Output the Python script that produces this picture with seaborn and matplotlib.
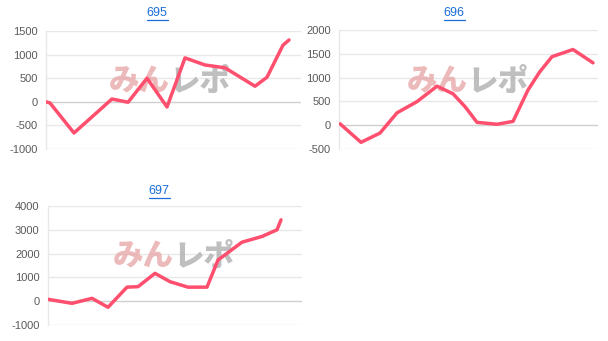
import matplotlib
matplotlib.use("Agg")
import matplotlib.pyplot as plt
import seaborn as sns
import pandas as pd
from matplotlib.lines import Line2D

sns.set_theme(style="white")
plt.rcParams['font.family'] = ['Liberation Sans', 'Noto Sans CJK JP', 'DejaVu Sans']

# ---- data (x = game count, y = coin difference) ----
titles = ["695", "696", "697"]
x695 = [0, 125, 878, 2071, 2573, 3169, 3796, 4361, 4988, 5616, 6557, 6933, 7435, 7624]
y695 = [0, -25, -660, 60, -10, 500, -110, 930, 780, 720, 330, 520, 1200, 1310]
x696 = [31, 680, 1266, 1792, 2409, 3027, 3521, 3892, 4263, 4880, 5375, 5838, 6200, 6579, 7228, 7846]
y696 = [30, -360, -165, 260, 495, 820, 660, 390, 60, 20, 80, 740, 1120, 1440, 1590, 1310]
x697 = [0, 756, 1386, 1890, 2488, 2835, 3370, 3843, 4409, 5008, 5354, 6110, 6740, 7213, 7339]
y697 = [80, -90, 120, -255, 590, 610, 1170, 820, 590, 590, 1730, 2480, 2720, 3000, 3420]
yticks695 = [-1000, -500, 0, 500, 1000, 1500]
yticks696 = [-500, 0, 500, 1000, 1500, 2000]
yticks697 = [-1000, 0, 1000, 2000, 3000, 4000]

W, H = 608, 341
fig = plt.figure(figsize=(W / 100, H / 100), dpi=100)

LINE = "#ff4f6e"
GRID = "#e8e8e8"
ZERO = "#cfcfcf"
TICK = "#5a5a5a"
TITLE = "#1a6ed8"

# panel boxes in pixels: left, right, top, bottom ; title center x, title y
panels = [
    (x695, y695, yticks695, (46, 301, 31, 149), (157, 13), (0.486, 0.576), titles[0]),
    (x696, y696, yticks696, (339, 598, 30, 149), (454, 13), (0.498, 0.571), titles[1]),
    (x697, y697, yticks697, (48, 302, 206, 325), (159, 191), (0.496, 0.58), titles[2]),
]

for xs, ys, yt, (l, r, t, b), (tx, ty), (wx, wy), title in panels:
    ax = fig.add_axes([l / W, 1 - b / H, (r - l) / W, (b - t) / H])
    df = pd.DataFrame({"x": xs, "y": ys})
    # watermark
    ax.text(wx, wy, "みん", transform=ax.transAxes, ha="right", va="center",
            fontsize=22, fontweight="heavy", color="#e6a3a3", alpha=0.75,
            family=['Noto Sans CJK JP'], zorder=1)
    ax.text(wx, wy, "レポ", transform=ax.transAxes, ha="left", va="center",
            fontsize=22, fontweight="heavy", color="#b4b4b4", alpha=0.85,
            family=['Noto Sans CJK JP'], zorder=1)
    sns.lineplot(data=df, x="x", y="y", ax=ax, color=LINE, linewidth=2.5,
                 zorder=3, sort=False)
    ax.set_xlim(0, 8000)
    ax.set_ylim(yt[0], yt[-1])
    ax.set_yticks(yt)
    ax.set_yticklabels([str(v) for v in yt])
    ax.set_xticks([])
    ax.set_xlabel("")
    ax.set_ylabel("")
    for v in yt:
        ax.axhline(v, color=ZERO if v == 0 else GRID, linewidth=1.0, zorder=0)
    for s in ["top", "right", "bottom"]:
        ax.spines[s].set_visible(False)
    ax.spines["left"].set_color(GRID)
    ax.spines["left"].set_linewidth(1.0)
    ax.tick_params(axis="y", length=5, width=1.0, color=GRID, pad=1,
                   labelsize=8, labelcolor=TICK)
    ax.set_facecolor("none")
    # title with underline
    fig.text(tx / W, 1 - ty / H, title, ha="center", va="center",
             fontsize=9, color=TITLE)
    fig.add_artist(Line2D([(tx - 10.5) / W, (tx + 10.5) / W],
                          [1 - (ty + 6.5) / H, 1 - (ty + 6.5) / H],
                          color=TITLE, linewidth=0.9))

fig.savefig("out.png", dpi=100)
